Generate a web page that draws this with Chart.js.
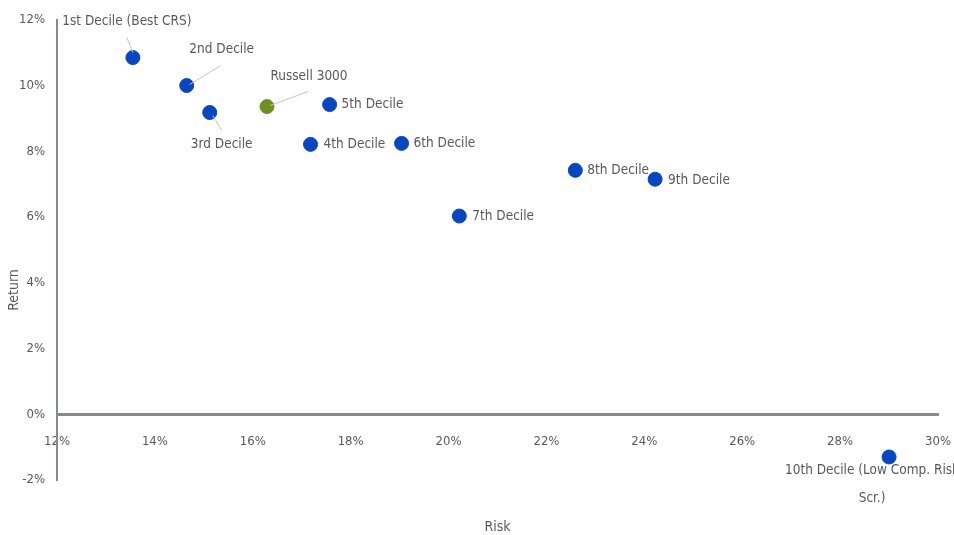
<!DOCTYPE html>
<html lang="en">
<head>
    <meta charset="UTF-8">
    <title>Risk vs Return by Decile</title>
    <script src="https://cdn.jsdelivr.net/npm/chart.js"></script>
    <style>
        html, body { margin: 0; padding: 0; background: #fff; }
        #chartContainer { width: 954px; height: 535px; }
    </style>
</head>
<body>
    <div id="chartContainer">
        <canvas id="riskChart"></canvas>
    </div>

    <script>
        // Data (percent)
        const names = ['1st Decile (Best CRS)', '2nd Decile', '3rd Decile', '4th Decile', '5th Decile',
                       '6th Decile', '7th Decile', '8th Decile', '9th Decile', '10th Decile (Low Comp. Risk Scr.)'];
        const risk = [13.55, 14.65, 15.12, 17.18, 17.57, 19.04, 20.22, 22.59, 24.22, 29.0];
        const ret = [10.85, 10.0, 9.18, 8.21, 9.42, 8.24, 6.03, 7.42, 7.15, -1.3];

        const benchName = 'Russell 3000';
        const benchRisk = [16.29];
        const benchRet = [9.36];

        const xTicks = [12, 14, 16, 18, 20, 22, 24, 26, 28, 30];
        const yTicks = [-2, 0, 2, 4, 6, 8, 10, 12];

        // label placement (pixels relative to the point)
        const labelLayout = [
            { lines: ['1st Decile (Best CRS)'], dx: -6, dy: -36, align: 'center', leader: [-6, -20, 0, -5] },
            { lines: ['2nd Decile'], dx: 35, dy: -36, align: 'center', leader: [34, -20, 3, -1] },
            { lines: ['3rd Decile'], dx: 12, dy: 32, align: 'center', leader: [3, 3, 12, 18] },
            { lines: ['4th Decile'], dx: 13, dy: 0, align: 'left' },
            { lines: ['5th Decile'], dx: 12, dy: 0, align: 'left' },
            { lines: ['6th Decile'], dx: 12, dy: 0, align: 'left' },
            { lines: ['7th Decile'], dx: 13, dy: 0, align: 'left' },
            { lines: ['8th Decile'], dx: 12, dy: 0, align: 'left' },
            { lines: ['9th Decile'], dx: 13, dy: 1, align: 'left' },
            { lines: ['10th Decile (Low Comp. Risk', 'Scr.)'], dx: -17, dy: 14, align: 'center', lineGap: 28 }
        ];
        const benchLayout = { lines: [benchName], dx: 42, dy: -30, align: 'center', leader: [41, -15, 3, -1] };

        const FONT = "'Liberation Sans Narrow', 'DejaVu Sans Condensed', sans-serif";
        const TEXT = '#595959';
        const AXIS = '#868a90';

        function drawLabel(ctx, x, y, cfg) {
            if (cfg.leader) {
                ctx.strokeStyle = '#c4c4c4';
                ctx.lineWidth = 1;
                ctx.beginPath();
                ctx.moveTo(x + cfg.leader[0], y + cfg.leader[1]);
                ctx.lineTo(x + cfg.leader[2], y + cfg.leader[3]);
                ctx.stroke();
            }
            ctx.fillStyle = TEXT;
            ctx.font = '13.5px ' + FONT;
            ctx.textAlign = cfg.align;
            ctx.textBaseline = 'middle';
            cfg.lines.forEach((t, i) => {
                ctx.fillText(t, x + cfg.dx, y + cfg.dy + i * (cfg.lineGap || 0));
            });
        }

        const labelPlugin = {
            id: 'pointLabels',
            afterDatasetsDraw(chart) {
                const ctx = chart.ctx;
                ctx.save();
                chart.getDatasetMeta(0).data.forEach((pt, i) => drawLabel(ctx, pt.x, pt.y, labelLayout[i]));
                const b = chart.getDatasetMeta(1).data[0];
                drawLabel(ctx, b.x, b.y, benchLayout);

                // axis titles
                ctx.fillStyle = TEXT;
                ctx.font = '14px ' + FONT;
                ctx.textAlign = 'center';
                ctx.textBaseline = 'middle';
                const area = chart.chartArea;
                ctx.fillText('Risk', (area.left + area.right) / 2, 527);
                ctx.translate(14, 290);
                ctx.rotate(-Math.PI / 2);
                ctx.fillText('Return', 0, 0);
                ctx.restore();
            }
        };

        const pct = v => v + '%';

        new Chart(document.getElementById('riskChart'), {
            type: 'scatter',
            data: {
                datasets: [
                    {
                        label: 'Deciles',
                        data: risk.map((r, i) => ({ x: r, y: ret[i] })),
                        backgroundColor: '#0a46be',
                        borderColor: '#0a46be',
                        pointRadius: 7,
                        pointHoverRadius: 7
                    },
                    {
                        label: benchName,
                        data: benchRisk.map((r, i) => ({ x: r, y: benchRet[i] })),
                        backgroundColor: '#6e8f24',
                        borderColor: '#6e8f24',
                        pointRadius: 7,
                        pointHoverRadius: 7
                    }
                ]
            },
            options: {
                responsive: true,
                maintainAspectRatio: false,
                animation: false,
                layout: { padding: { left: 0, right: 16, top: 17, bottom: 55 } },
                plugins: {
                    legend: { display: false },
                    tooltip: { enabled: false }
                },
                scales: {
                    x: {
                        type: 'linear',
                        position: { y: 0 },
                        min: xTicks[0],
                        max: xTicks[xTicks.length - 1],
                        afterBuildTicks: s => { s.ticks = xTicks.map(v => ({ value: v })); },
                        afterFit: s => { s.paddingLeft = 0; s.paddingRight = 0; },
                        grid: { display: false, drawTicks: false },
                        border: { display: true, color: AXIS, width: 3 },
                        ticks: {
                            callback: pct,
                            color: TEXT,
                            padding: 20,
                            maxRotation: 0,
                            font: { family: FONT, size: 13 }
                        }
                    },
                    y: {
                        type: 'linear',
                        min: yTicks[0],
                        max: yTicks[yTicks.length - 1],
                        afterBuildTicks: s => { s.ticks = yTicks.map(v => ({ value: v })); },
                        afterFit: s => { s.width = 57; },
                        grid: { display: false, drawTicks: false },
                        border: { display: true, color: AXIS, width: 2 },
                        ticks: {
                            callback: pct,
                            color: TEXT,
                            padding: 12,
                            font: { family: FONT, size: 13 }
                        }
                    }
                }
            },
            plugins: [labelPlugin]
        });
    </script>
</body>
</html>
